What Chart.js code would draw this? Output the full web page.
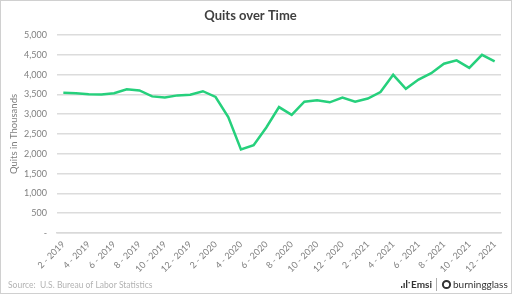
<!DOCTYPE html>
<html>
<head>
<meta charset="utf-8">
<script src="https://cdn.jsdelivr.net/npm/chart.js@4"></script>
<style>
  html, body { margin: 0; padding: 0; background: #fff; }
  #wrap { width: 512px; height: 294px; }
</style>
</head>
<body>
<div id="wrap"><canvas id="chart" width="512" height="294"></canvas></div>
<script>
// --- DATA ---
const months = [
  '2 - 2019', '3 - 2019', '4 - 2019', '5 - 2019', '6 - 2019', '7 - 2019', '8 - 2019', '9 - 2019',
  '10 - 2019', '11 - 2019', '12 - 2019',
  '1 - 2020', '2 - 2020', '3 - 2020', '4 - 2020', '5 - 2020', '6 - 2020', '7 - 2020', '8 - 2020',
  '9 - 2020', '10 - 2020', '11 - 2020', '12 - 2020',
  '1 - 2021', '2 - 2021', '3 - 2021', '4 - 2021', '5 - 2021', '6 - 2021', '7 - 2021', '8 - 2021',
  '9 - 2021', '10 - 2021', '11 - 2021', '12 - 2021'
];
const quits = [
  3540, 3530, 3505, 3500, 3530, 3630, 3600, 3450, 3420, 3475, 3490,
  3580, 3435, 2930, 2110, 2215, 2665, 3180, 2985, 3315, 3350, 3300, 3420,
  3315, 3395, 3560, 3995, 3640, 3875, 4035, 4275, 4360, 4170, 4500, 4335
];
const yTicks = [0, 500, 1000, 1500, 2000, 2500, 3000, 3500, 4000, 4500, 5000];

const gray = '#7f7f7f';

// footer: source + logos, plus the thin frame
const extras = {
  id: 'extras',
  afterDraw(chart) {
    const c = chart.ctx;
    c.save();
    c.strokeStyle = '#d0d0d0';
    c.lineWidth = 1;
    c.strokeRect(0.5, 0.5, 511, 293);

    c.fillStyle = '#b3b3b3';
    c.font = '8.5px Lato';
    c.textBaseline = 'middle';
    c.fillText('Source:  U.S. Bureau of Labor Statistics', 8, 285);

    // Emsi mark
    c.fillStyle = '#333';
    c.fillRect(401, 286, 1.3, 2);
    c.fillRect(403.5, 283, 1.3, 5);
    c.fillRect(406, 280, 1.3, 8);
    c.fillRect(408.5, 282, 1.3, 1.3);
    c.font = 'bold 10px Lato';
    c.fillText('Emsi', 411, 284.5);
    c.fillStyle = '#999';
    c.fillRect(436, 278, 0.8, 13);
    // burningglass mark
    c.strokeStyle = '#333';
    c.lineWidth = 2;
    c.beginPath();
    c.arc(446.5, 284.5, 3.6, 0, Math.PI * 2);
    c.stroke();
    c.fillStyle = '#333';
    c.font = '10px Lato';
    c.fillText('burningglass', 453, 284.5);
    c.restore();
  }
};

new Chart(document.getElementById('chart'), {
  type: 'line',
  data: {
    labels: months,
    datasets: [{
      data: quits,
      borderColor: '#26d07c',
      borderWidth: 2.5,
      pointRadius: 0,
      tension: 0,
      fill: false
    }]
  },
  options: {
    responsive: false,
    animation: false,
    layout: { padding: { left: 0, right: 11, top: 0, bottom: 0 } },
    plugins: {
      legend: { display: false },
      tooltip: { enabled: false },
      title: {
        display: true,
        text: 'Quits over Time',
        color: '#404040',
        font: { family: 'Lato', size: 13, weight: 'bold' },
        padding: { top: 8, bottom: 11.4 }
      }
    },
    scales: {
      x: {
        offset: true,
        grid: { display: false, drawTicks: false },
        border: { color: '#d9d9d9', width: 1.5 },
        afterFit(s) { s.height = 61; },
        ticks: {
          autoSkip: false,
          maxRotation: 45,
          minRotation: 45,
          padding: 6,
          color: gray,
          font: { family: 'Lato', size: 9 },
          callback(v, i) { return i % 2 === 0 ? months[i] : ''; }
        }
      },
      y: {
        min: 0,
        max: 5000,
        afterBuildTicks(s) { s.ticks = yTicks.map(v => ({ value: v })); },
        afterFit(s) { s.width = 57; },
        grid: { color: '#dcdcdc', lineWidth: 1.5, drawTicks: false },
        border: { display: false },
        title: {
          display: true,
          text: 'Quits in Thousands',
          color: gray,
          font: { family: 'Lato', size: 9.5 },
          padding: { top: 8, bottom: 0 }
        },
        ticks: {
          padding: 10,
          color: gray,
          font: { family: 'Lato', size: 9 },
          callback(v) { return v === 0 ? '-' : v.toLocaleString('en-US'); }
        }
      }
    }
  },
  plugins: [extras]
});
</script>
</body>
</html>
